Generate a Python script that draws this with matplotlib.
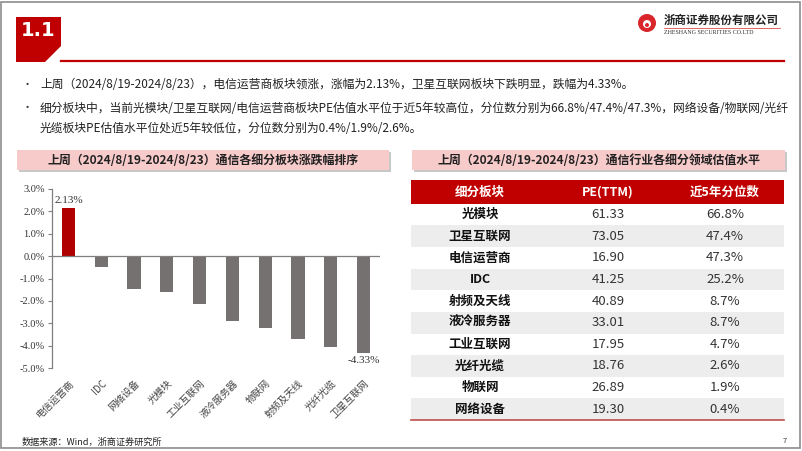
import matplotlib
matplotlib.use("Agg")
import matplotlib.pyplot as plt
from matplotlib.patches import Rectangle, Polygon, Circle

plt.rcParams['font.family'] = ['Noto Sans CJK SC', 'DejaVu Sans']

# bar chart data
sectors = ['电信运营商', 'IDC', '网络设备', '光模块', '工业互联网',
           '液冷服务器', '物联网', '射频及天线', '光纤光缆', '卫星互联网']
weekly_chg = [2.13, -0.48, -1.47, -1.60, -2.13, -2.88, -3.19, -3.69, -4.06, -4.33]
yticks = [3, 2, 1, 0, -1, -2, -3, -4, -5]

# valuation table data
tbl_header = ['细分板块', 'PE(TTM)', '近5年分位数']
tbl_names = ['光模块', '卫星互联网', '电信运营商', 'IDC', '射频及天线',
             '液冷服务器', '工业互联网', '光纤光缆', '物联网', '网络设备']
tbl_pe = ['61.33', '73.05', '16.90', '41.25', '40.89',
          '33.01', '17.95', '18.76', '26.89', '19.30']
tbl_pct = ['66.8%', '47.4%', '47.3%', '25.2%', '8.7%',
           '8.7%', '4.7%', '2.6%', '1.9%', '0.4%']

RED = '#C00000'
W, H = 802, 451

fig = plt.figure(figsize=(W / 100, H / 100), dpi=100)

# overlay in pixel coords
bg = fig.add_axes([0, 0, 1, 1])
bg.set_xlim(0, W)
bg.set_ylim(H, 0)
bg.axis('off')

bg.add_patch(Rectangle((1, 2), 799, 446, fill=False, ec='#8C8C8C', lw=1.2))
bg.add_patch(Polygon([(16, 17), (61, 17), (61, 46), (45, 62), (16, 62)],
                     closed=True, fc=RED, ec='none'))
bg.text(21, 31, '1.1', color='white', fontsize=14, fontweight='bold',
        family=['DejaVu Sans'], va='center', ha='left')
bg.plot([61, 784], [61, 61], color=RED, lw=1.6)

# logo
bg.add_patch(Circle((647, 23), 9, fc='#D9262B', ec='none'))
bg.add_patch(Circle((647, 24), 4, fc='white', ec='none'))
bg.add_patch(Circle((647, 25), 2, fc='#D9262B', ec='none'))
bg.text(664, 20, '浙商证券股份有限公司', fontsize=8.3, fontweight='bold',
        va='center', ha='left', color='#222222')
bg.plot([664, 780], [28, 28], color='#D9262B', lw=0.5)
bg.text(664, 33, 'ZHESHANG SECURITIES CO.LTD', fontsize=4.3,
        family=['Liberation Serif'], va='center', ha='left', color='#333333')

# bullets
bfs = 8.5
bg.text(22, 85, '•', fontsize=8, va='center', color='#333333')
bg.text(40, 85, '上周（2024/8/19-2024/8/23），电信运营商板块领涨，涨幅为2.13%，'
        '卫星互联网板块下跌明显，跌幅为4.33%。', fontsize=bfs, va='center', color='#222222')
bg.text(22, 108, '•', fontsize=8, va='center', color='#333333')
bg.text(40, 108, '细分板块中，当前光模块/卫星互联网/电信运营商板块PE估值水平位于近5年较高位，'
        '分位数分别为66.8%/47.4%/47.3%，网络设备/物联网/光纤', fontsize=bfs, va='center',
        color='#222222')
bg.text(40, 128, '光缆板块PE估值水平位处近5年较低位，分位数分别为0.4%/1.9%/2.6%。',
        fontsize=bfs, va='center', color='#222222')

# title banners
for x0, x1, title in [(17, 389, '上周（2024/8/19-2024/8/23）通信各细分板块涨跌幅排序'),
                      (412, 785, '上周（2024/8/19-2024/8/23）通信行业各细分领域估值水平')]:
    bg.add_patch(Rectangle((x0 + 2, 152), x1 - x0, 20, fc='#C8C8C8', ec='none'))
    bg.add_patch(Rectangle((x0, 150), x1 - x0, 20, fc='#F8CBCB', ec='none'))
    bg.text((x0 + x1) / 2, 160, title, fontsize=8.6, fontweight='bold',
            ha='center', va='center', color='#222222')

bg.text(22, 442, '数据来源：Wind，浙商证券研究所', fontsize=6.6, va='center', color='#222222')
bg.text(785, 441, '7', fontsize=5.5, va='center', ha='center', color='#333333')

# bar chart
ax = fig.add_axes([52 / W, (H - 368) / H, 328 / W, (368 - 189) / H])
x = list(range(len(sectors)))
colors = ['#B00000' if v > 0 else '#767171' for v in weekly_chg]
ax.bar(x, weekly_chg, width=0.4, color=colors, zorder=2)
ax.set_xlim(-0.5, len(sectors) - 0.5)
ax.set_ylim(-5, 3)
ax.axhline(0, color='#7F7F7F', lw=0.9, zorder=3)
for s in ['top', 'right', 'bottom']:
    ax.spines[s].set_visible(False)
ax.spines['left'].set_color('#7F7F7F')
ax.spines['left'].set_linewidth(0.9)
ax.set_yticks(yticks)
ax.set_yticklabels(['%.1f%%' % v for v in yticks], family=['Liberation Serif'],
                   fontsize=7.5, color='#333333')
ax.tick_params(axis='y', length=3, width=0.8, color='#7F7F7F', pad=2)
ax.set_xticks(x)
ax.set_xticklabels(sectors, rotation=45, ha='right', rotation_mode='anchor',
                   fontsize=7, color='#444444')
ax.tick_params(axis='x', length=0, pad=7)
ax.text(0, weekly_chg[0] + 0.15, '%.2f%%' % weekly_chg[0], ha='center', va='bottom',
        family=['Liberation Serif'], fontsize=8, color='#333333')
ax.text(9, weekly_chg[-1] - 0.15, '%.2f%%' % weekly_chg[-1], ha='center', va='top',
        family=['Liberation Serif'], fontsize=8, color='#333333')

# table
tx = fig.add_axes([411 / W, (H - 420) / H, (784 - 411) / W, (420 - 180) / H])
nrows = len(tbl_names)
tx.set_xlim(0, 3)
tx.set_ylim(nrows + 1.1, 0)
tx.axis('off')
tx.add_patch(Rectangle((0, 0), 3, 1.1, fc=RED, ec='none'))
col_x = [0.555, 1.585, 2.525]
for j, h in enumerate(tbl_header):
    tx.text(col_x[j], 0.55, h, ha='center', va='center', fontsize=9,
            fontweight='bold', color='white')
for i in range(nrows):
    y0 = 1.1 + i
    if i % 2 == 1:
        tx.add_patch(Rectangle((0, y0), 3, 1, fc='#EDEDED', ec='none'))
    tx.text(col_x[0], y0 + 0.5, tbl_names[i], ha='center', va='center',
            fontsize=9, fontweight='bold', color='#111111')
    tx.text(col_x[1], y0 + 0.5, tbl_pe[i], ha='center', va='center',
            fontsize=9.5, color='#333333')
    tx.text(col_x[2], y0 + 0.5, tbl_pct[i], ha='center', va='center',
            fontsize=9.5, color='#333333')
tx.plot([0, 3], [nrows + 1.1, nrows + 1.1], color='#C0504D', lw=1.2, clip_on=False)

fig.savefig('out.png', dpi=100)
